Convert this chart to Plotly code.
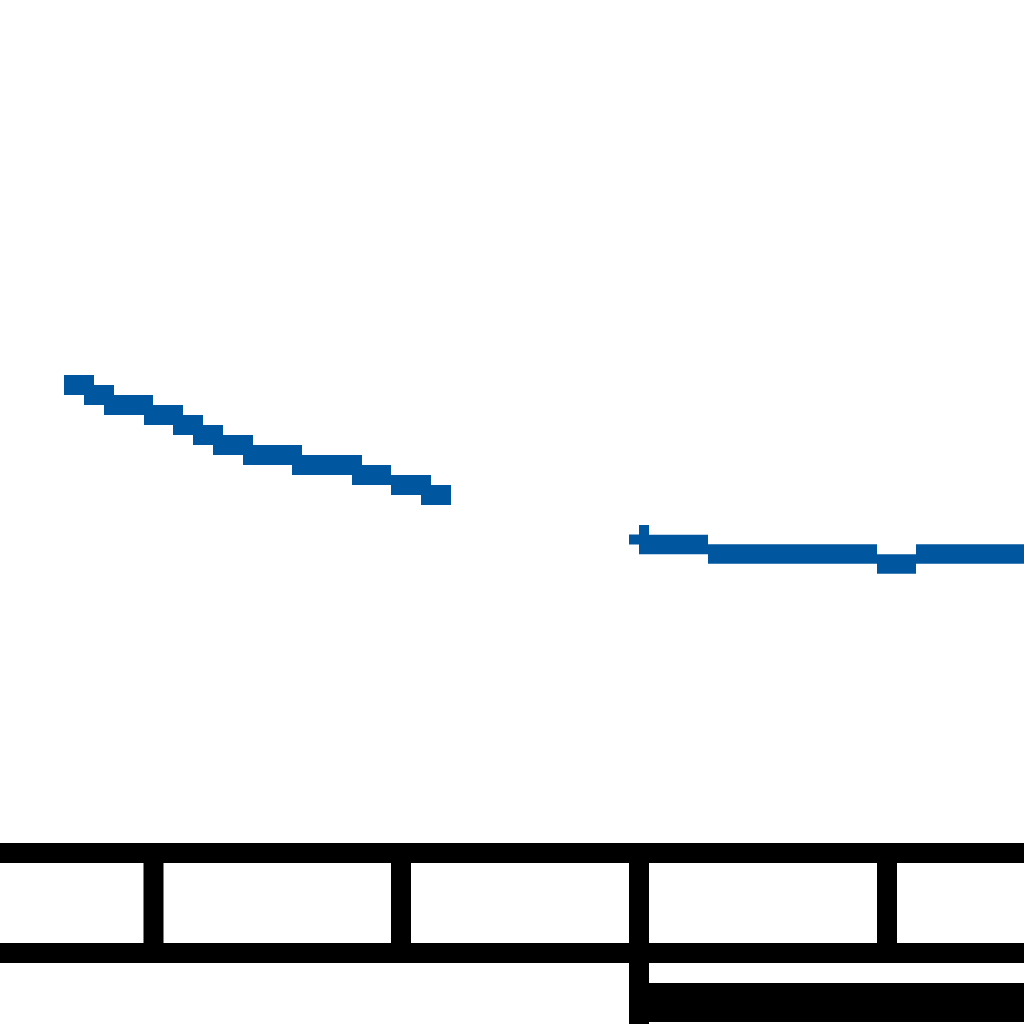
import plotly.graph_objects as go

# ---- data (x: horizontal units, y: value units) ----
# first series run: step segments (start x, end x, value)
s1_x0 = [6.4, 8.4, 10.4, 14.4, 17.3, 19.3, 21.3, 24.3, 29.2, 35.2, 39.1, 42.1]
s1_x1 = [9.4, 11.4, 15.3, 18.3, 20.3, 22.3, 25.3, 30.2, 36.2, 39.1, 43.1, 45.1]
s1_y = [46.8, 45.8, 44.8, 43.8, 42.8, 41.8, 40.8, 39.8, 38.8, 37.8, 36.8, 35.8]

# second series run
s2_x0 = [63.9, 70.8, 87.7, 91.6]
s2_x1 = [70.8, 87.7, 91.6, 106.0]
s2_y = [30.85, 29.9, 28.9, 29.9]

# start cap of the second run (thin pieces)
cap_x0 = [63.9, 62.9]
cap_x1 = [64.9, 63.9]
cap_y = [32.3, 31.35]

# axis / table structure
tick_x = [15.35, 40.1, 63.9, 88.7]
band_y = [0.0, -10.0]
major_tick_x = [63.9]
label_box_x = [64.9, 106.0]
label_box_y = [-16.9, -13.0]

X_RANGE = [0, 102.4]
Y_RANGE = [-17.1, 85.3]

BLUE = "#00579f"


def segs(x0, x1, y):
    xs, ys = [], []
    for a, b, v in zip(x0, x1, y):
        xs += [a, b, None]
        ys += [v, v, None]
    return xs, ys


fig = go.Figure()

x, y = segs(s1_x0, s1_x1, s1_y)
fig.add_trace(go.Scatter(x=x, y=y, mode="lines", line=dict(color=BLUE, width=20),
                         hoverinfo="skip"))
x, y = segs(s2_x0, s2_x1, s2_y)
fig.add_trace(go.Scatter(x=x, y=y, mode="lines", line=dict(color=BLUE, width=19.5),
                         hoverinfo="skip"))
x, y = segs(cap_x0, cap_x1, cap_y)
fig.add_trace(go.Scatter(x=x, y=y, mode="lines", line=dict(color=BLUE, width=10),
                         hoverinfo="skip"))

shapes = []
for by in band_y:
    shapes.append(dict(type="line", xref="x", yref="y", x0=-5, x1=110, y0=by, y1=by,
                       line=dict(color="black", width=20)))
for tx in tick_x:
    shapes.append(dict(type="line", xref="x", yref="y", x0=tx, x1=tx,
                       y0=band_y[0], y1=band_y[1], line=dict(color="black", width=20)))
for tx in major_tick_x:
    shapes.append(dict(type="line", xref="x", yref="y", x0=tx, x1=tx,
                       y0=band_y[1], y1=Y_RANGE[0] - 2, line=dict(color="black", width=20)))
shapes.append(dict(type="rect", xref="x", yref="y", x0=label_box_x[0], x1=label_box_x[1],
                   y0=label_box_y[0], y1=label_box_y[1], fillcolor="black",
                   line=dict(width=0)))

fig.update_layout(
    width=1024, height=1024,
    margin=dict(l=0, r=0, t=0, b=0, pad=0),
    paper_bgcolor="white", plot_bgcolor="white",
    showlegend=False,
    shapes=shapes,
    xaxis=dict(range=X_RANGE, visible=False, fixedrange=True),
    yaxis=dict(range=Y_RANGE, visible=False, fixedrange=True),
)

fig.write_html("out.html", config={"displayModeBar": False, "staticPlot": True})
